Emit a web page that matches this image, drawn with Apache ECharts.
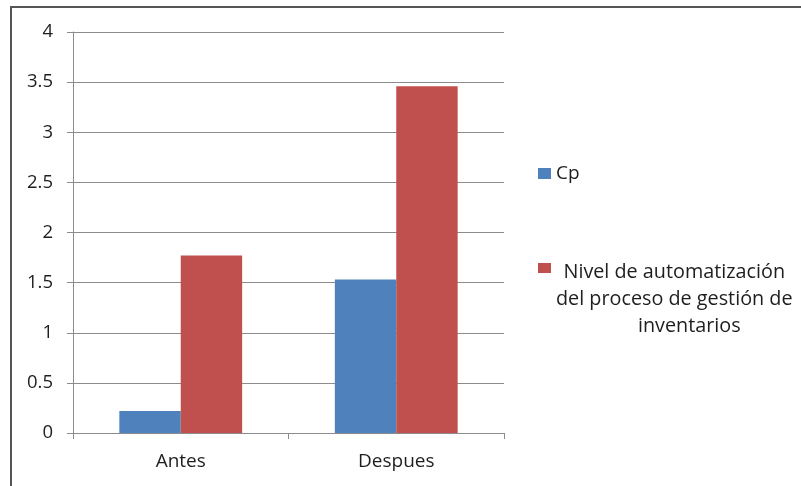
<!DOCTYPE html>
<html>
<head>
<meta charset="utf-8">
<script src="https://cdn.jsdelivr.net/npm/echarts@6/dist/echarts.min.js"></script>
<style>
  html, body { margin: 0; padding: 0; background: #fff; }
  #wrap { position: relative; width: 801px; height: 486px; overflow: hidden; }
  #chart { position: absolute; left: 0; top: 0; width: 801px; height: 486px; }
  #frame { position: absolute; left: 10px; top: 6px; width: 820px; height: 500px;
           border-left: 2px solid #555; border-top: 2px solid #555; pointer-events: none; }
</style>
</head>
<body>
<div id="wrap">
  <div id="chart"></div>
  <div id="frame"></div>
</div>
<script>
// Categories and series values
const categories = ['Antes', 'Despues'];
const seriesNames = ['Cp', 'Nivel de automatización del proceso de gestión de inventarios'];
const cpValues = [0.22, 1.53];
const nivelValues = [1.77, 3.46];
const nivelLegendLines = ['Nivel de automatización', 'del proceso de gestión de', 'inventarios'];
const yTicks = { min: 0, max: 4, step: 0.5 };

const FONT = '"Open Sans", sans-serif';
const TEXT = '#1e1e1e';
const GRID = '#8c8c8c';

const chart = echarts.init(document.getElementById('chart'), null, { renderer: 'canvas' });

const legendFont = 19.8;
const legendLine = 27;

chart.setOption({
  animation: false,
  backgroundColor: '#fff',
  grid: { left: 73, right: 297, top: 32, bottom: 53, containLabel: false },
  xAxis: {
    type: 'category',
    data: categories,
    axisLine: { lineStyle: { color: GRID, width: 1 } },
    axisTick: { show: true, length: 6, lineStyle: { color: GRID } },
    axisLabel: { color: TEXT, fontFamily: FONT, fontSize: 19, margin: 19 }
  },
  yAxis: {
    type: 'value',
    min: yTicks.min,
    max: yTicks.max,
    interval: yTicks.step,
    axisLine: { show: true, lineStyle: { color: GRID, width: 1 } },
    axisTick: { show: true, length: 6, lineStyle: { color: GRID } },
    splitLine: { show: true, lineStyle: { color: GRID, width: 1 } },
    axisLabel: { color: TEXT, fontFamily: FONT, fontSize: 18.5, margin: 20 }
  },
  legend: [
    {
      data: [seriesNames[0]],
      left: 533, top: 159,
      itemWidth: 13, itemHeight: 11,
      icon: 'rect',
      textStyle: { color: TEXT, fontFamily: FONT, fontSize: 19 }
    },
    {
      data: [seriesNames[1]],
      left: 533, top: 257,
      itemWidth: 13, itemHeight: 10,
      icon: 'rect',
      formatter: () => '{a|' + nivelLegendLines[0] + '}\n{a|' + nivelLegendLines[1] + '}\n{b|' + nivelLegendLines[2] + '}',
      textStyle: {
        color: TEXT, fontFamily: FONT, fontSize: legendFont,
        padding: [2 * (legendLine + 4), 0, 0, 0],
        rich: {
          a: { align: 'center', fontSize: legendFont, lineHeight: legendLine, fontFamily: FONT, color: TEXT },
          b: { align: 'center', fontSize: legendFont, lineHeight: legendLine, fontFamily: FONT, color: TEXT, padding: [0, 0, 0, 30] }
        }
      }
    }
  ],
  series: [
    {
      name: seriesNames[0],
      type: 'bar',
      data: cpValues,
      barGap: '0%',
      barCategoryGap: '43%',
      itemStyle: { color: '#4F81BD' }
    },
    {
      name: seriesNames[1],
      type: 'bar',
      data: nivelValues,
      barGap: '0%',
      barCategoryGap: '43%',
      itemStyle: { color: '#C0504D' }
    }
  ]
});
</script>
</body>
</html>
